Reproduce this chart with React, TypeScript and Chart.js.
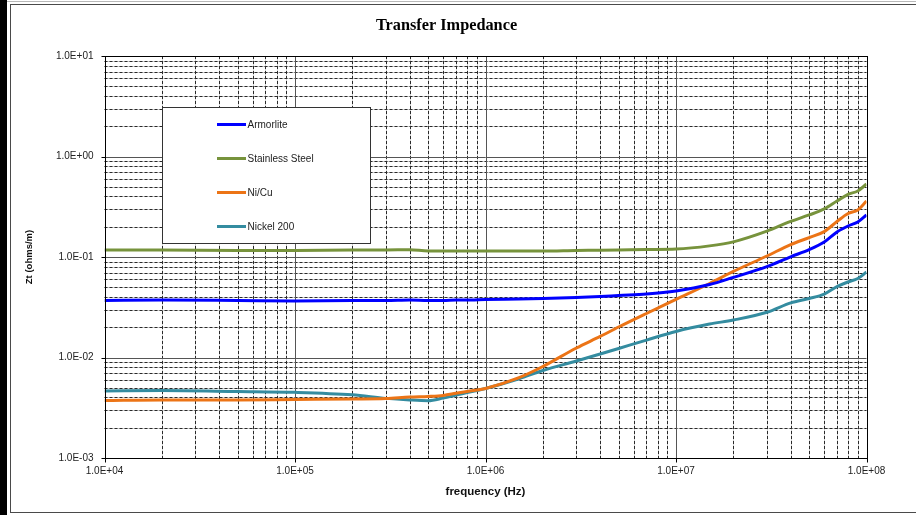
import React, { useEffect, useRef } from 'react';
import { Chart, registerables } from 'chart.js';

Chart.register(...registerables);

const titleText = 'Transfer Impedance';
const xAxisTitle = 'frequency (Hz)';
const yAxisTitle = 'Zt (ohms/m)';

const frequencies = [
  1e4, 2e4, 5e4, 1e5, 2e5, 3e5, 4e5, 5e5, 6e5, 7e5, 8e5, 1e6,
  1.5e6, 2e6, 3e6, 4e6, 5e6, 7e6, 1e7,
  1.5e7, 2e7, 3e7, 4e7, 5e7, 6e7, 7e7, 8e7, 9e7, 1e8,
];

const seriesNames = ['Armorlite', 'Stainless Steel', 'Ni/Cu', 'Nickel 200'];
const seriesColors = ['#0000FF', '#77933C', '#EC7416', '#348CA0'];

const armorlite = [
  0.0369, 0.0373, 0.0369, 0.0365, 0.0369, 0.0369, 0.0373, 0.0369, 0.0369, 0.0373, 0.0373, 0.0378,
  0.0382, 0.0386, 0.0395, 0.0404, 0.0414, 0.0428, 0.0459,
  0.0532, 0.0627, 0.0802, 0.1005, 0.1183, 0.141, 0.1775, 0.2034, 0.223, 0.262,
];
const stainlessSteel = [
  0.1175, 0.1175, 0.1162, 0.1162, 0.1175, 0.1175, 0.1182, 0.1148, 0.1148, 0.1148, 0.1148, 0.1148,
  0.1148, 0.1148, 0.1162, 0.1168, 0.1175, 0.1188, 0.120,
  0.129, 0.1415, 0.1807, 0.226, 0.262, 0.301, 0.36, 0.42, 0.454, 0.532,
];
const niCu = [
  0.00373, 0.00378, 0.00378, 0.00382, 0.00386, 0.0039, 0.00405, 0.0041, 0.00419, 0.0044, 0.00459, 0.00492,
  0.0063, 0.00813, 0.01243, 0.0162, 0.0201, 0.0274, 0.0378,
  0.0545, 0.0718, 0.1023, 0.133, 0.156, 0.179, 0.2255, 0.271, 0.294, 0.36,
];
const nickel200 = [
  0.00464, 0.00469, 0.00459, 0.0045, 0.00425, 0.00392, 0.00378, 0.00372, 0.00395, 0.00422, 0.00447, 0.00492,
  0.00615, 0.00743, 0.00923, 0.01084, 0.0123, 0.0149, 0.01815,
  0.0215, 0.0236, 0.0282, 0.035, 0.0387, 0.0428, 0.0508, 0.0564, 0.0611, 0.0709,
];

const seriesValues = [armorlite, stainlessSteel, niCu, nickel200];

const xMin = 1e4;
const xMax = 1e8;
const yMin = 1e-3;
const yMax = 1e1;

function sciLabel(v: number): string {
  const e = Math.round(Math.log10(v));
  if (Math.abs(Math.log10(v) - e) > 1e-6) return '';
  const sign = e < 0 ? '-' : '+';
  const abs = Math.abs(e);
  return '1.0E' + sign + (abs < 10 ? '0' + abs : String(abs));
}

const decorPlugin = {
  id: 'decor',
  beforeDatasetsDraw(chart: any) {
    const { ctx, chartArea: a, scales } = chart;
    const x = scales.x;
    const y = scales.y;
    ctx.save();
    ctx.lineWidth = 1;
    const minorX: number[] = [];
    for (let e = 4; e < 8; e++) for (let m = 2; m <= 9; m++) minorX.push(m * Math.pow(10, e));
    const minorY: number[] = [];
    for (let e = -3; e < 1; e++) for (let m = 2; m <= 9; m++) minorY.push(m * Math.pow(10, e));
    const drawV = (v: number) => {
      const px = Math.round(x.getPixelForValue(v)) + 0.5;
      ctx.beginPath();
      ctx.moveTo(px, a.top);
      ctx.lineTo(px, a.bottom);
      ctx.stroke();
    };
    const drawH = (v: number) => {
      const py = Math.round(y.getPixelForValue(v)) + 0.5;
      ctx.beginPath();
      ctx.moveTo(a.left, py);
      ctx.lineTo(a.right, py);
      ctx.stroke();
    };
    ctx.strokeStyle = '#cfcfcf';
    ctx.setLineDash([]);
    minorX.forEach(drawV);
    minorY.forEach(drawH);
    ctx.strokeStyle = '#2a2a2a';
    ctx.setLineDash([3, 2]);
    minorX.forEach(drawV);
    minorY.forEach(drawH);
    ctx.setLineDash([]);
    ctx.strokeStyle = '#555';
    [1e5, 1e6, 1e7].forEach(drawV);
    [1e-2, 1e-1, 1e0].forEach(drawH);
    ctx.restore();
  },
  afterDatasetsDraw(chart: any) {
    const { ctx, chartArea: a, scales } = chart;
    const x = scales.x;
    const y = scales.y;
    ctx.save();
    ctx.strokeStyle = '#000';
    ctx.lineWidth = 1;
    const l = Math.round(a.left) + 0.5;
    const r = Math.round(a.right) + 0.5;
    const t = Math.round(a.top) + 0.5;
    const b = Math.round(a.bottom) + 0.5;
    ctx.strokeRect(l, t, r - l, b - t);
    ctx.beginPath();
    for (let e = 4; e <= 8; e++) {
      const px = Math.round(x.getPixelForValue(Math.pow(10, e))) + 0.5;
      ctx.moveTo(px, b);
      ctx.lineTo(px, b + 4);
    }
    for (let e = -3; e <= 1; e++) {
      const py = Math.round(y.getPixelForValue(Math.pow(10, e))) + 0.5;
      ctx.moveTo(l - 4, py);
      ctx.lineTo(l, py);
    }
    ctx.stroke();

    const lx = 162.5, ly = 107.5, lw = 208, lh = 136;
    ctx.fillStyle = '#ffffff';
    ctx.fillRect(lx, ly, lw, lh);
    ctx.strokeStyle = '#333';
    ctx.lineWidth = 1;
    ctx.strokeRect(lx, ly, lw, lh);
    ctx.font = '10px "Liberation Sans", Arial, sans-serif';
    ctx.textBaseline = 'middle';
    ctx.textAlign = 'left';
    chart.data.datasets.forEach((ds: any, i: number) => {
      const rowY = 124.5 + i * 34;
      ctx.strokeStyle = ds.borderColor;
      ctx.lineWidth = 3;
      ctx.beginPath();
      ctx.moveTo(217, rowY);
      ctx.lineTo(246, rowY);
      ctx.stroke();
      ctx.fillStyle = '#222';
      ctx.fillText(ds.label, 247.5, rowY + 0.5);
    });
    ctx.restore();
  },
  afterDraw(chart: any) {
    const { ctx, chartArea: a } = chart;
    ctx.save();
    ctx.fillStyle = '#000';
    ctx.textAlign = 'center';
    ctx.textBaseline = 'middle';
    ctx.font = 'bold 16.3px "Liberation Serif", "Times New Roman", serif';
    ctx.fillText(titleText, 446.5, 26);
    ctx.fillStyle = '#111';
    ctx.font = 'bold 11.5px "Liberation Sans", Arial, sans-serif';
    ctx.fillText(xAxisTitle, (a.left + a.right) / 2, 492);
    ctx.font = 'bold 9.5px "Liberation Sans", Arial, sans-serif';
    ctx.translate(29, (a.top + a.bottom) / 2);
    ctx.rotate(-Math.PI / 2);
    ctx.fillText(yAxisTitle, 0, 0);
    ctx.restore();
  },
};

export default function App() {
  const canvasRef = useRef<HTMLCanvasElement | null>(null);

  useEffect(() => {
    const canvas = canvasRef.current;
    if (!canvas) return;
    const datasets = seriesNames.map((name, i) => ({
      label: name,
      data: frequencies.map((f, j) => ({ x: f, y: seriesValues[i][j] })),
      borderColor: seriesColors[i],
      backgroundColor: seriesColors[i],
      borderWidth: 3,
      pointRadius: 0,
      pointHoverRadius: 0,
      fill: false,
      cubicInterpolationMode: 'monotone' as const,
    }));
    const tickFont = { family: '"Liberation Sans", Arial, sans-serif', size: 10 };
    const chart = new Chart(canvas, {
      type: 'line',
      data: { datasets },
      options: {
        animation: false,
        responsive: false,
        events: [],
        layout: { padding: { left: 0, top: 56, right: 49.5, bottom: 0 } },
        plugins: {
          legend: { display: false },
          title: { display: false },
          tooltip: { enabled: false },
        },
        scales: {
          x: {
            type: 'logarithmic',
            min: xMin,
            max: xMax,
            grid: { display: false, drawTicks: false },
            border: { display: false },
            ticks: {
              autoSkip: false,
              maxRotation: 0,
              minRotation: 0,
              padding: 7,
              color: '#222',
              font: tickFont,
              callback: (v: any) => sciLabel(Number(v)),
            },
            afterFit: (s: any) => {
              s.height = 57;
              s.paddingLeft = 0;
              s.paddingRight = 0;
            },
          },
          y: {
            type: 'logarithmic',
            min: yMin,
            max: yMax,
            grid: { display: false, drawTicks: false },
            border: { display: false },
            ticks: {
              autoSkip: false,
              padding: 11,
              color: '#222',
              font: tickFont,
              callback: (v: any) => sciLabel(Number(v)),
            },
            afterFit: (s: any) => {
              s.width = 104.5;
              s.paddingTop = 0;
              s.paddingBottom = 0;
            },
          },
        },
      },
      plugins: [decorPlugin],
    } as any);
    return () => chart.destroy();
  }, []);

  return (
    <div style={{ position: 'fixed', left: 0, top: 0, width: 916, height: 515, background: '#fff', overflow: 'hidden' }}>
      <canvas ref={canvasRef} width={916} height={515} style={{ position: 'absolute', left: 0, top: 0, width: 916, height: 515 }} />
      <div style={{ position: 'absolute', left: 0, top: 0, width: 7, height: 515, background: '#000' }} />
      <div style={{ position: 'absolute', left: 7, top: 1, width: 909, height: 1, background: '#b8b8b8' }} />
      <div style={{ position: 'absolute', left: 10, top: 4, width: 906, height: 1, background: '#4a4a4a' }} />
      <div style={{ position: 'absolute', left: 10, top: 4, width: 1, height: 509, background: '#4a4a4a' }} />
      <div style={{ position: 'absolute', left: 10, top: 512, width: 906, height: 1, background: '#4a4a4a' }} />
    </div>
  );
}
